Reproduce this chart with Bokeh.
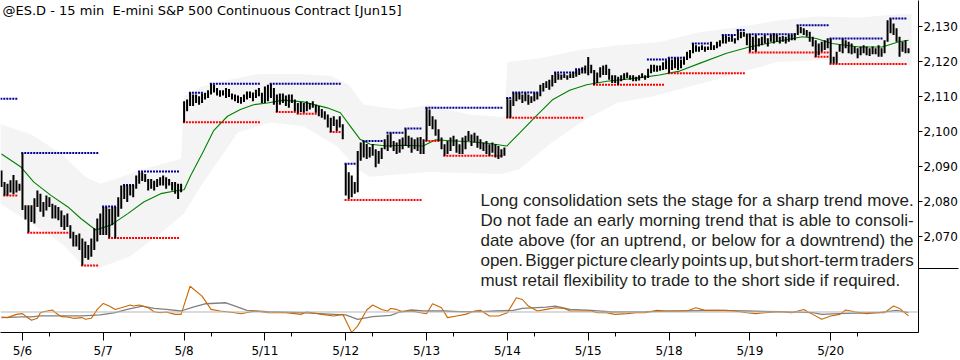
from bokeh.plotting import figure
from bokeh.models import Range1d, LinearAxis, FixedTicker, NumeralTickFormatter, Span, Label
from bokeh.embed import file_html
from bokeh.resources import INLINE

# ---------------- data ----------------
title_text = "@ES.D - 15 min\u00a0 E-mini S&P 500 Continuous Contract [Jun15]"

day_labels = ["5/6", "5/7", "5/8", "5/11", "5/12", "5/13", "5/14", "5/15", "5/18", "5/19", "5/20"]
day_start_bar = [7, 34, 61, 88, 115, 142, 169, 196, 223, 250, 277]
price_ticks = [2070, 2080, 2090, 2100, 2110, 2120, 2130]

h_0505 = [2088.8, 2085.5, 2085.0, 2086.0, 2087.5, 2086.0, 2085.0]
l_0505 = [2084.1, 2081.7, 2081.7, 2082.5, 2082.0, 2082.5, 2083.0]
h_0506 = [2093.8, 2078.9, 2078.9, 2078.9, 2080.9, 2083.1, 2082.2, 2079.8, 2081.7, 2081.2, 2079.3, 2078.9, 2078.4, 2077.4,
          2076.0, 2076.5, 2073.2, 2071.3, 2070.4, 2070.8, 2069.4, 2068.5, 2067.5, 2069.4, 2072.3, 2075.1, 2076.5]
l_0506 = [2077.5, 2074.8, 2071.1, 2074.1, 2073.7, 2078.4, 2077.0, 2075.6, 2077.4, 2078.4, 2075.1, 2075.1, 2074.6, 2072.7,
          2071.8, 2072.7, 2069.4, 2067.1, 2067.1, 2066.1, 2061.7, 2063.8, 2063.3, 2064.2, 2066.1, 2068.5, 2070.4]
h_0507 = [2078.4, 2078.4, 2077.9, 2078.4, 2078.4, 2081.2, 2084.5, 2084.7, 2084.5, 2084.7, 2084.7, 2087.4, 2088.3, 2088.3,
          2087.8, 2086.4, 2086.4, 2085.9, 2086.4, 2086.9, 2087.4, 2086.9, 2086.4, 2085.5, 2085.5, 2085.0, 2085.0]
l_0507 = [2070.4, 2070.4, 2069.7, 2073.2, 2069.4, 2075.6, 2077.9, 2080.7, 2079.8, 2081.7, 2081.2, 2083.6, 2085.0, 2085.8,
          2085.5, 2083.1, 2083.6, 2083.1, 2084.1, 2084.5, 2084.5, 2083.6, 2084.5, 2083.1, 2082.2, 2080.7, 2082.6]
h_0508 = [2108.6, 2109.1, 2111.0, 2110.5, 2110.5, 2110.0, 2110.8, 2111.0, 2111.7, 2113.6, 2113.3, 2112.4, 2111.7, 2111.7,
          2112.4, 2112.1, 2110.8, 2110.5, 2110.2, 2109.8, 2110.5, 2111.4, 2111.4, 2111.1, 2111.9, 2112.4, 2111.0]
l_0508 = [2102.5, 2105.7, 2107.2, 2107.2, 2108.1, 2107.6, 2108.1, 2109.1, 2109.5, 2110.5, 2111.1, 2110.2, 2109.9, 2110.2,
          2109.5, 2109.8, 2109.1, 2108.6, 2108.1, 2107.9, 2108.4, 2109.1, 2109.5, 2108.6, 2109.5, 2110.0, 2108.1]
h_0511 = [2112.8, 2113.3, 2113.6, 2112.4, 2110.5, 2110.8, 2110.8, 2110.2, 2110.5, 2110.5, 2109.1, 2108.1, 2108.4, 2108.1,
          2108.6, 2108.1, 2108.6, 2107.6, 2107.2, 2106.4, 2105.7, 2104.8, 2103.9, 2104.3, 2103.4, 2104.3, 2102.0]
l_0511 = [2108.1, 2108.6, 2109.5, 2107.6, 2105.5, 2107.6, 2108.1, 2107.2, 2106.7, 2108.1, 2105.7, 2105.1, 2105.5, 2105.3,
          2105.7, 2106.2, 2106.7, 2105.3, 2104.3, 2103.9, 2103.4, 2101.1, 2099.8, 2101.5, 2100.1, 2101.1, 2097.7]
h_0512 = [2090.7, 2088.3, 2087.4, 2085.5, 2094.4, 2096.8, 2097.2, 2096.4, 2095.5, 2096.4, 2094.9, 2094.4, 2095.3, 2097.7,
          2099.1, 2099.6, 2097.2, 2096.8, 2097.7, 2098.2, 2100.7, 2098.7, 2098.2, 2097.7, 2098.2, 2098.4, 2097.7]
l_0512 = [2081.7, 2080.7, 2081.2, 2082.2, 2082.6, 2091.6, 2092.5, 2092.1, 2092.5, 2093.0, 2089.7, 2090.7, 2092.1, 2094.9,
          2094.4, 2095.4, 2094.4, 2093.5, 2093.9, 2094.9, 2095.8, 2095.3, 2093.9, 2094.9, 2094.4, 2093.5, 2093.5]
h_0513 = [2106.7, 2106.2, 2104.3, 2103.4, 2100.6, 2098.2, 2096.3, 2097.2, 2098.2, 2098.7, 2097.7, 2096.3, 2098.2, 2098.7,
          2100.1, 2099.1, 2099.6, 2098.7, 2097.7, 2096.8, 2097.2, 2096.3, 2096.8, 2096.3, 2095.8, 2094.9, 2095.4]
l_0513 = [2097.2, 2101.5, 2100.6, 2098.7, 2097.2, 2094.9, 2093.0, 2093.5, 2094.4, 2095.8, 2093.9, 2093.5, 2093.5, 2094.9,
          2097.2, 2095.8, 2096.8, 2095.3, 2094.9, 2094.4, 2093.5, 2093.0, 2093.9, 2092.5, 2092.1, 2092.5, 2093.0]
h_0514 = [2109.5, 2109.1, 2111.0, 2111.0, 2111.0, 2110.5, 2111.0, 2110.5, 2110.0, 2111.0, 2111.0, 2113.3, 2113.8, 2114.3,
          2114.7, 2116.1, 2116.8, 2116.5, 2116.2, 2116.5, 2116.0, 2116.5, 2117.0, 2117.5, 2117.7, 2118.3, 2118.8]
l_0514 = [2103.9, 2103.9, 2107.2, 2108.6, 2109.1, 2108.1, 2108.6, 2107.6, 2108.1, 2108.6, 2109.1, 2110.0, 2111.4, 2112.4,
          2111.9, 2112.8, 2113.8, 2114.7, 2114.7, 2115.2, 2114.7, 2115.2, 2115.2, 2115.6, 2116.1, 2116.5, 2116.5]
h_0515 = [2121.2, 2119.0, 2117.5, 2116.8, 2118.3, 2118.8, 2119.0, 2117.9, 2116.0, 2116.0, 2115.6, 2116.0, 2116.6, 2116.8,
          2116.0, 2116.0, 2115.6, 2116.0, 2116.6, 2116.0, 2117.9, 2119.0, 2119.0, 2118.8, 2118.8, 2119.7, 2120.3]
l_0515 = [2116.0, 2116.6, 2113.3, 2113.8, 2115.4, 2116.1, 2116.1, 2114.7, 2113.8, 2113.8, 2113.3, 2114.3, 2114.7, 2115.2,
          2114.7, 2114.3, 2114.3, 2114.5, 2115.2, 2114.7, 2115.2, 2116.6, 2117.0, 2117.0, 2117.3, 2117.5, 2117.7]
h_0518 = [2120.9, 2120.5, 2121.0, 2120.9, 2120.5, 2121.3, 2122.7, 2123.2, 2125.1, 2124.6, 2124.2, 2124.6, 2124.2, 2124.2,
          2125.6, 2124.6, 2125.6, 2126.0, 2127.5, 2127.2, 2127.0, 2127.5, 2126.6, 2128.9, 2128.4, 2128.4, 2127.9]
l_0518 = [2116.6, 2117.5, 2118.0, 2117.5, 2118.0, 2119.0, 2120.4, 2120.9, 2122.3, 2122.7, 2122.7, 2123.2, 2122.7, 2123.2,
          2123.2, 2123.2, 2123.7, 2124.2, 2125.1, 2125.1, 2125.6, 2125.6, 2125.1, 2126.0, 2126.6, 2127.0, 2124.6]
h_0519 = [2127.7, 2127.0, 2127.5, 2126.6, 2127.0, 2127.5, 2126.6, 2127.5, 2128.0, 2127.5, 2127.0, 2127.2, 2127.0, 2127.5,
          2127.5, 2128.0, 2130.3, 2129.8, 2129.4, 2128.9, 2128.4, 2127.0, 2126.0, 2125.1, 2125.6, 2126.0, 2126.6]
l_0519 = [2122.7, 2123.2, 2122.7, 2124.2, 2124.6, 2125.1, 2124.2, 2125.6, 2125.1, 2125.6, 2125.1, 2125.6, 2125.1, 2125.6,
          2126.0, 2126.0, 2127.5, 2128.0, 2127.5, 2127.0, 2125.6, 2124.2, 2121.3, 2121.7, 2122.7, 2123.2, 2123.7]
h_0520 = [2126.5, 2121.3, 2122.7, 2124.8, 2126.5, 2126.0, 2125.6, 2125.1, 2124.2, 2123.7, 2124.2, 2124.6, 2124.2, 2123.7,
          2124.2, 2123.7, 2124.6, 2123.7, 2126.0, 2131.7, 2132.2, 2130.8, 2129.4, 2127.0, 2125.6, 2126.0, 2123.7]
l_0520 = [2119.4, 2119.4, 2119.4, 2122.7, 2122.3, 2123.7, 2122.3, 2122.0, 2122.3, 2120.9, 2121.7, 2122.3, 2121.7, 2121.5,
          2122.0, 2122.0, 2121.3, 2121.3, 2122.3, 2125.6, 2128.0, 2127.5, 2125.6, 2121.3, 2122.7, 2122.3, 2122.3]

# resistance (blue) and support (red) dotted levels: first bar, last bar, price
res_start = [0, 7, 34, 41, 46, 63, 70, 90, 115, 121, 129, 135, 142, 169, 171, 185, 192, 216, 223, 231, 241, 246, 250, 266, 277, 297]
res_end = [5, 32, 38, 44, 59, 67, 86, 113, 118, 127, 134, 140, 167, 170, 179, 192, 195, 222, 228, 236, 245, 248, 265, 276, 294, 302]
res_price = [2109.3, 2093.8, 2078.5, 2084.7, 2088.5, 2111.0, 2113.6, 2113.6, 2090.7, 2097.2, 2099.6, 2100.8, 2106.7, 2109.5,
             2111.1, 2116.8, 2117.7, 2120.5, 2121.0, 2125.1, 2127.5, 2128.9, 2127.7, 2130.3, 2126.5, 2132.2]
sup_start = [1, 9, 27, 36, 61, 92, 99, 110, 115, 142, 148, 169, 198, 223, 250, 272, 277]
sup_end = [5, 22, 32, 59, 86, 98, 105, 113, 140, 146, 167, 194, 221, 248, 276, 276, 302]
sup_price = [2081.7, 2071.0, 2061.7, 2069.5, 2102.6, 2105.5, 2105.0, 2099.8, 2080.4, 2097.2, 2093.0, 2103.9, 2113.3, 2116.6,
             2122.5, 2121.3, 2119.2]

# moving average (bar index, price)
ma_x = [0, 6.5, 10.8, 16.5, 22.2, 26.5, 31.5, 36.5, 42.2, 47.5, 53.2, 58.8, 61, 63.2, 67.5, 70.8, 75.5, 79.8, 84.2, 88.8,
        94.2, 100.8, 108.8, 113.2, 116.5, 119.8, 123.2, 128.8, 134.2, 140.8, 145, 150, 156.5, 163, 168.8, 173.2, 177.5,
        184.2, 189.8, 195.5, 202.2, 212.2, 219.8, 226.5, 233.2, 242.2, 249.8, 258.8, 267.5, 272.2, 277.5, 286.5, 294.2,
        299.8, 303]
ma_y = [2093.5, 2089.8, 2085.5, 2081.7, 2078.4, 2075.1, 2071.8, 2073.2, 2076.5, 2079.8, 2082.2, 2083.1, 2083.3, 2087.4,
        2094.4, 2100.1, 2104.3, 2106.2, 2107.6, 2108.1, 2108.9, 2108.4, 2106.7, 2105.3, 2101.5, 2097.7, 2096.3, 2095.8,
        2096.0, 2095.8, 2097.6, 2097.3, 2097.0, 2096.5, 2095.8, 2099.6, 2103.4, 2109.1, 2111.7, 2113.3, 2114.3, 2115.2,
        2116.1, 2117.2, 2119.4, 2122.3, 2124.1, 2125.6, 2127.0, 2126.5, 2125.1, 2124.1, 2124.1, 2125.6, 2126.0]

# envelope band edges (bar index, price)
bu_x = [-0.4, 10, 20, 28, 33, 38, 47, 60, 61, 66, 76, 86, 100, 110, 116, 121, 133, 143, 156, 168, 169, 180, 193, 206, 220,
        233, 246, 260, 273, 286, 300, 304]
bu_y = [2102.0, 2099.1, 2093.5, 2087.0, 2085.0, 2086.4, 2089.2, 2092.1, 2110.0, 2112.5, 2114.7, 2116.4, 2116.4, 2115.8,
        2113.3, 2107.6, 2106.2, 2107.5, 2104.8, 2104.0, 2119.8, 2120.9, 2123.2, 2124.6, 2125.5, 2128.3, 2129.7, 2131.7,
        2132.8, 2132.5, 2133.4, 2133.4]
bl_x = [-0.4, 10, 20, 28, 33, 43, 53, 61, 66, 79, 90, 101, 112, 119, 123, 143, 167, 173, 184, 195, 206, 217, 226, 242, 259,
        275, 286, 297, 304]
bl_y = [2079.3, 2073.7, 2068.0, 2061.1, 2061.1, 2064.3, 2070.8, 2076.5, 2083.6, 2099.7, 2102.5, 2101.4, 2095.8, 2089.2,
        2087.0, 2088.4, 2087.8, 2089.2, 2096.9, 2103.4, 2108.2, 2109.9, 2111.9, 2115.6, 2119.8, 2120.4, 2119.5, 2119.0,
        2118.7]

# lower oscillator panel
osc_orange_x = [0, 2, 5, 7, 8, 10, 12, 13, 14, 17, 18, 20, 22, 24, 27, 28, 30, 32, 34, 36, 38, 40, 43, 44, 46, 49, 51, 53,
                55, 58, 60, 63, 67, 70, 73, 78, 80, 83, 85, 89, 92, 95, 98, 100, 102, 104, 107, 111, 114, 117, 119, 122,
                124, 127, 129, 130, 132, 134, 137, 140, 142, 144, 147, 149, 152, 155, 158, 160, 163, 166, 169, 172, 174,
                176, 179, 182, 185, 188, 190, 193, 197, 199, 202, 205, 209, 212, 215, 219, 222, 225, 229, 232, 235, 239,
                242, 245, 249, 252, 255, 260, 264, 268, 271, 274, 277, 280, 282, 285, 289, 292, 295, 298, 300, 303]
osc_orange = [-5.0, -5.7, -2.4, -1.7, -4.0, -8.4, -6.4, -0.7, 0.3, 2.0, -0.7, -4.7, -5.0, -6.4, -5.7, -7.4, -6.4, 2.6, 8.6,
              6.0, 2.6, 4.3, 7.0, 6.0, 7.0, 4.3, 0.3, -0.7, 0.0, -2.4, -2.4, 26.0, 16.0, 2.6, 1.0, -0.7, -1.7, 0.0, 1.0,
              -0.7, -0.7, -0.7, -1.7, -2.4, 0.0, -0.7, -2.4, -4.0, -2.4, -20.7, -14.0, 2.0, 7.0, 2.6, 1.0, 3.6, 2.6, 0.3,
              1.0, -0.7, -1.7, 8.3, 4.3, -5.7, -4.0, -2.4, 1.0, 1.8, -4.0, -4.0, -0.7, 14.3, 12.6, 6.0, 1.0, 2.6, 4.3,
              3.6, 1.0, 1.0, 1.0, -0.7, -0.7, -2.4, -1.7, -0.7, -0.7, 1.6, 1.0, 1.0, 1.0, 4.3, 1.6, 1.6, 1.6, 1.0, -0.7,
              -1.7, -0.7, 0.3, -0.7, 2.6, -2.4, -7.4, -4.0, -2.4, 2.0, 0.3, -1.7, -0.7, -0.7, 6.0, 3.6, -4.0]
osc_gray_x = [0, 7, 10, 13, 20, 27, 33, 38, 42, 47, 51, 55, 60, 64, 68, 75, 82, 89, 100, 111, 115, 119, 124, 130, 133, 137,
              141, 148, 153, 160, 165, 171, 174, 182, 185, 190, 197, 204, 215, 227, 238, 249, 260, 271, 274, 282, 293,
              299, 303]
osc_gray = [-5.7, -5.0, -5.0, -4.0, -4.0, -4.0, -3.0, -0.7, 2.6, 6.0, 3.6, 2.6, 1.0, 5.0, 8.3, 9.3, 1.6, 0.3, -0.7, -2.4,
            -3.0, -7.4, -4.7, -3.4, 0.0, 2.0, 1.0, 1.0, 0.3, 0.3, 1.0, 1.6, 3.6, 5.0, 6.0, 2.6, 1.6, 0.0, 0.3, 1.0, 1.6,
            1.0, 0.3, -0.7, -2.4, -1.4, -0.7, 1.6, -0.7]

note_lines = [
    "Long consolidation sets the stage for a sharp trend move.",
    "Do not fade an early morning trend that is able to consoli-",
    "date above (for an uptrend, or below for a downtrend) the",
    "open. Bigger picture clearly points up, but short-term traders",
    "must retail flexibility to trade to the short side if required.",
]

# ---------------- layout helpers (pixel placement of annotations) ----------------
W, H = 960, 360
FRAME_W, FRAME_H = 920, 335
X0 = -1.0 / 3.0                 # bar i is centred at pixel 3*i + 1
PX_PER_BAR = 3.0
PRICE_TOP = 2137.36
PX_PER_PT = 3.533
PANEL_SPLIT = 2060.94           # boundary between price and oscillator panels
GUTTER = 40                     # width of the right axis gutter


def xd(px):
    return X0 + px / PX_PER_BAR


def yd(py):
    return PRICE_TOP - py / PX_PER_PT


# Arial / Liberation Sans advance widths (1/1000 em) for the justified note
ARIAL_W = {' ': 278, '(': 333, ')': 333, ',': 278, '-': 333, '.': 278, 'B': 667, 'D': 722, 'L': 556,
           'a': 556, 'b': 556, 'c': 500, 'd': 556, 'e': 556, 'f': 278, 'g': 556, 'h': 556, 'i': 222, 'j': 222,
           'k': 500, 'l': 222, 'm': 833, 'n': 556, 'o': 556, 'p': 556, 'q': 556, 'r': 333, 's': 500, 't': 278,
           'u': 556, 'v': 500, 'w': 722, 'x': 500, 'y': 500, 'z': 500}

# ---------------- figure ----------------
highs = h_0505 + h_0506 + h_0507 + h_0508 + h_0511 + h_0512 + h_0513 + h_0514 + h_0515 + h_0518 + h_0519 + h_0520
lows = l_0505 + l_0506 + l_0507 + l_0508 + l_0511 + l_0512 + l_0513 + l_0514 + l_0515 + l_0518 + l_0519 + l_0520
idx = list(range(len(highs)))

p = figure(width=W, height=H, output_backend="svg", toolbar_location=None,
           x_range=Range1d(X0, X0 + FRAME_W / PX_PER_BAR),
           y_range=Range1d(PRICE_TOP - FRAME_H / PX_PER_PT, PRICE_TOP),
           x_axis_location=None, y_axis_location=None, min_border=0)
p.extra_y_ranges = {"osc": Range1d(314.3 - FRAME_H, 314.3)}
p.outline_line_color = None
p.grid.visible = False
p.background_fill_color = "white"
p.border_fill_color = "white"

# band
p.patch(bu_x + bl_x[::-1], bu_y + bl_y[::-1], fill_color="#f4f4f4", line_color=None)

# moving average
p.line(ma_x, ma_y, line_color="#008000", line_width=1.1)

# levels
p.segment(x0=[s - 0.4 for s in res_start], x1=[e + 0.4 for e in res_end], y0=res_price, y1=res_price,
          line_color="#000099", line_width=2, line_dash="2 1")
p.segment(x0=[s - 0.4 for s in sup_start], x1=[e + 0.4 for e in sup_end], y0=sup_price, y1=sup_price,
          line_color="#ff0000", line_width=2, line_dash="2 1")

# price bars
p.segment(x0=idx, x1=idx, y0=lows, y1=highs, line_color="black", line_width=2)

# oscillator
p.add_layout(Span(location=0, dimension="width", y_range_name="osc", line_color="#b8b8b8", line_width=1))
p.line(osc_gray_x, osc_gray, y_range_name="osc", line_color="#808080", line_width=1.3)
p.line(osc_orange_x, osc_orange, y_range_name="osc", line_color="#cc6600", line_width=1.1)

# right price axis; its single long minor tick draws the panel separator in the gutter
yax = LinearAxis(ticker=FixedTicker(ticks=price_ticks, minor_ticks=[PANEL_SPLIT]),
                 formatter=NumeralTickFormatter(format="0,0"))
yax.axis_line_color = "black"
yax.major_tick_line_color = "black"
yax.minor_tick_line_color = "black"
yax.major_tick_in = 0
yax.major_tick_out = 4
yax.minor_tick_in = 0
yax.minor_tick_out = GUTTER
yax.major_label_standoff = 5 - GUTTER
yax.major_label_text_font = "DejaVu Sans"
yax.major_label_text_font_size = "12px"
yax.major_label_text_color = "black"
p.add_layout(yax, "right")

xax = LinearAxis(ticker=FixedTicker(ticks=day_start_bar, minor_ticks=[d + 9 for d in day_start_bar]),
                 major_label_overrides={d: lab for d, lab in zip(day_start_bar, day_labels)})
xax.axis_line_color = "black"
xax.major_tick_line_color = "black"
xax.minor_tick_line_color = "black"
xax.major_tick_in = 0
xax.major_tick_out = 8
xax.minor_tick_in = 0
xax.minor_tick_out = 4
xax.major_label_standoff = 3
xax.major_label_text_font = "DejaVu Sans"
xax.major_label_text_font_size = "12px"
xax.major_label_text_color = "black"
p.add_layout(xax, "below")

# title
p.add_layout(Label(x=xd(2), y=yd(2.5), text=title_text, text_baseline="top", text_align="left",
                   text_font="DejaVu Sans", text_font_size="13px", text_color="#000000"))

# justified note
FS = 17.0
left_px, right_px = 481.0, 915.0
for k, line in enumerate(note_lines):
    words = line.split(" ")
    widths = [sum(ARIAL_W[c] for c in w) * FS / 1000.0 for w in words]
    if k < len(note_lines) - 1:
        gap = (right_px - left_px - sum(widths)) / (len(words) - 1)
    else:
        gap = ARIAL_W[' '] * FS / 1000.0
    xpx = left_px
    for w, wd in zip(words, widths):
        p.add_layout(Label(x=xd(xpx), y=yd(202.3 + 20.0 * k), text=w, text_align="left",
                           text_baseline="alphabetic", text_font="Liberation Sans",
                           text_font_size="17px", text_color="#231f20"))
        xpx += wd + gap

open("out.html", "w").write(file_html(p, INLINE))
